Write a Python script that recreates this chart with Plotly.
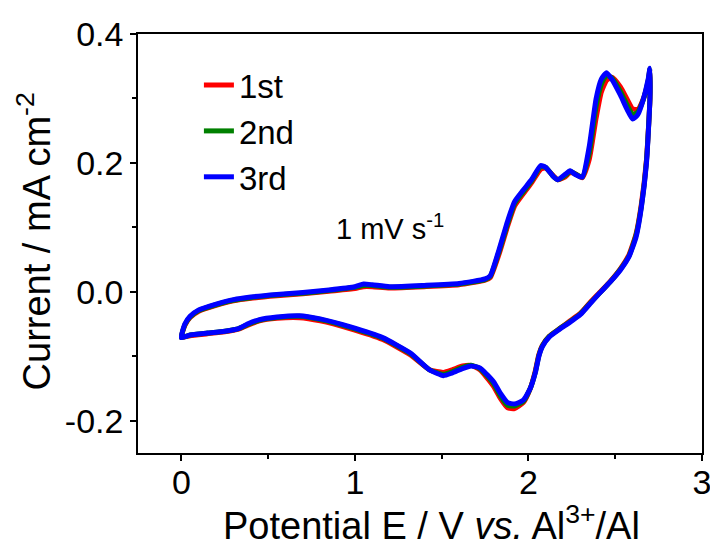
import plotly.graph_objects as go

# Potential (V vs Al3+/Al) – anodic sweep 0 -> 2.7 V, then cathodic sweep back to 0 V
potential = [
    0.00, 0.02, 0.05, 0.10, 0.20, 0.30, 0.40, 0.55, 0.70, 0.85, 1.00, 1.05, 1.10, 1.20,
    1.40, 1.60, 1.75, 1.78, 1.83, 1.88, 1.92, 1.97, 2.02, 2.07, 2.10, 2.14, 2.17, 2.21,
    2.24, 2.27, 2.31, 2.35, 2.39, 2.42, 2.45, 2.48, 2.53, 2.57, 2.60, 2.63, 2.66, 2.69,
    2.70,
    2.70, 2.68, 2.65, 2.62, 2.58, 2.53, 2.47, 2.41, 2.35, 2.30, 2.24, 2.18, 2.12, 2.08,
    2.06, 2.04, 2.01, 1.97, 1.92, 1.88, 1.84, 1.80, 1.76, 1.72, 1.67, 1.62, 1.56, 1.51,
    1.43, 1.32, 1.16, 0.97, 0.80, 0.68, 0.55, 0.45, 0.38, 0.33, 0.25, 0.15, 0.05, 0.00,
]

cycle1 = [
    -0.071, -0.052, -0.040, -0.030, -0.021, -0.014, -0.010, -0.006, -0.003, 0.001, 0.005, 0.008, 0.008, 0.006,
    0.008, 0.011, 0.018, 0.022, 0.058, 0.102, 0.133, 0.152, 0.170, 0.190, 0.192, 0.181, 0.174, 0.178,
    0.185, 0.183, 0.177, 0.205, 0.270, 0.310, 0.328, 0.333, 0.318, 0.298, 0.284, 0.283, 0.298, 0.326,
    0.345,
    0.300, 0.205, 0.135, 0.090, 0.058, 0.036, 0.016, -0.001, -0.018, -0.033, -0.045, -0.057, -0.069, -0.083,
    -0.097, -0.122, -0.150, -0.172, -0.181, -0.180, -0.166, -0.147, -0.133, -0.121, -0.114, -0.115, -0.121, -0.125,
    -0.121, -0.098, -0.074, -0.057, -0.045, -0.040, -0.041, -0.045, -0.052, -0.058, -0.062, -0.065, -0.068, -0.071,
]

cycle2 = [
    -0.071, -0.051, -0.039, -0.029, -0.020, -0.013, -0.009, -0.005, -0.002, 0.002, 0.007, 0.010, 0.010, 0.007,
    0.009, 0.012, 0.019, 0.024, 0.062, 0.106, 0.137, 0.155, 0.173, 0.194, 0.193, 0.180, 0.174, 0.180,
    0.187, 0.183, 0.178, 0.215, 0.288, 0.322, 0.336, 0.332, 0.311, 0.289, 0.275, 0.279, 0.297, 0.328,
    0.346,
    0.300, 0.203, 0.132, 0.088, 0.056, 0.035, 0.015, -0.002, -0.019, -0.034, -0.046, -0.057, -0.069, -0.084,
    -0.099, -0.124, -0.150, -0.170, -0.177, -0.176, -0.162, -0.143, -0.130, -0.119, -0.114, -0.117, -0.124, -0.128,
    -0.121, -0.096, -0.072, -0.055, -0.043, -0.038, -0.040, -0.044, -0.051, -0.057, -0.061, -0.064, -0.067, -0.071,
]

cycle3 = [
    -0.071, -0.050, -0.038, -0.028, -0.019, -0.012, -0.008, -0.004, -0.001, 0.003, 0.008, 0.012, 0.011, 0.008,
    0.010, 0.013, 0.020, 0.025, 0.065, 0.110, 0.140, 0.158, 0.175, 0.196, 0.193, 0.180, 0.174, 0.182,
    0.188, 0.182, 0.178, 0.225, 0.300, 0.330, 0.340, 0.330, 0.305, 0.282, 0.268, 0.275, 0.297, 0.330,
    0.347,
    0.300, 0.200, 0.130, 0.085, 0.055, 0.034, 0.015, -0.002, -0.020, -0.035, -0.047, -0.058, -0.070, -0.085,
    -0.100, -0.125, -0.150, -0.168, -0.174, -0.172, -0.158, -0.140, -0.128, -0.118, -0.115, -0.119, -0.126, -0.130,
    -0.121, -0.095, -0.071, -0.054, -0.042, -0.037, -0.039, -0.043, -0.050, -0.057, -0.061, -0.064, -0.067, -0.071,
]

series_names = ["1st", "2nd", "3rd"]
series_colors = ["#ff0000", "#008000", "#0000ff"]
series_values = [cycle1, cycle2, cycle3]

x_ticks = [0, 1, 2, 3]
y_ticks = [-0.2, 0.0, 0.2, 0.4]
y_tick_labels = ["-0.2", "0.0", "0.2", "0.4"]

x_title = "Potential E / V <i>vs.</i> Al<sup>3+</sup>/Al"
y_title = "Current / mA cm<sup>-2</sup>"

FONT = "Liberation Sans, Arial, sans-serif"

fig = go.Figure()
for i, (name, color, vals) in enumerate(zip(series_names, series_colors, series_values)):
    fig.add_trace(go.Scatter(
        x=potential, y=vals, mode="lines", name=name,
        line=dict(color=color, width=5, shape="spline", smoothing=0.5),
        legendgroup=name,
    ))

fig.add_annotation(
    x=1.2, y=0.1, xref="x", yref="y",
    text="1 mV s<sup>-1</sup>", showarrow=False,
    font=dict(family=FONT, size=29, color="black"),
    xanchor="center", yanchor="middle",
)

# axis titles (placed as annotations for precise positioning)
fig.add_annotation(
    x=0.52, y=0, xref="paper", yref="paper", text=x_title, showarrow=False,
    font=dict(family=FONT, size=38, color="black"),
    xanchor="center", yanchor="middle", yshift=-70,
)
fig.add_annotation(
    x=0, y=0.505, xref="paper", yref="paper", text=y_title, showarrow=False,
    font=dict(family=FONT, size=38, color="black"), textangle=-90,
    xanchor="center", yanchor="middle", xshift=-104,
)

axis_common = dict(
    showline=True, linecolor="black", linewidth=1.5, mirror=True,
    ticks="outside", ticklen=6, tickwidth=1.5, tickcolor="black",
    showgrid=False, zeroline=False, automargin=False,
    tickfont=dict(family=FONT, size=34, color="black"),
)

# page body has an 8px default margin; figure is sized/offset to compensate
fig.update_layout(
    width=710, height=540,
    margin=dict(l=130, r=16, t=26, b=95),
    paper_bgcolor="white", plot_bgcolor="white",
    showlegend=True,
    legend=dict(
        x=0.108, y=0.945, xanchor="left", yanchor="top",
        font=dict(family=FONT, size=33, color="black"),
        bgcolor="rgba(0,0,0,0)", tracegroupgap=0,
    ),
    xaxis=dict(
        range=[-0.25, 3.0], tickvals=x_ticks, ticklabelstandoff=-8,
        minor=dict(dtick=0.5, tick0=0, ticks="outside", ticklen=4, tickcolor="black", tickwidth=1.5),
        **axis_common,
    ),
    yaxis=dict(
        range=[-0.25, 0.4], tickvals=y_ticks, ticktext=y_tick_labels,
        minor=dict(dtick=0.1, tick0=0, ticks="outside", ticklen=4, tickcolor="black", tickwidth=1.5),
        **axis_common,
    ),
)

fig.write_html("out.html")
